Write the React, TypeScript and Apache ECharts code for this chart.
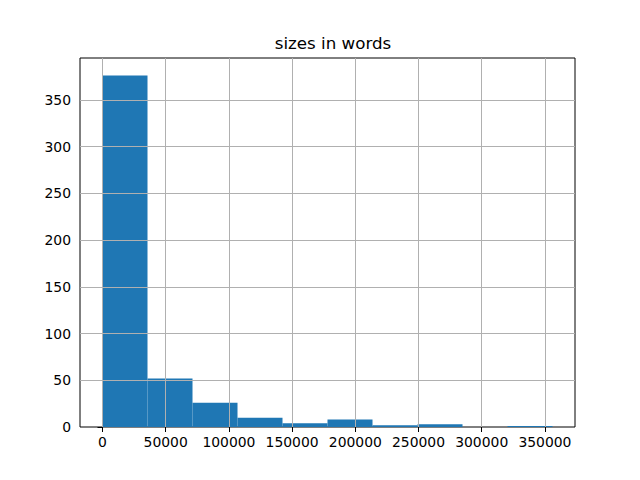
import React, { useEffect, useRef } from "react";
import * as echarts from "echarts";

const binEdges = [0, 35600, 71200, 106800, 142400, 178000, 213600, 249200, 284800, 320400, 356000];
const counts = [376, 52, 26, 10, 4, 8, 2, 3, 0, 1];
const xTicks = [0, 50000, 100000, 150000, 200000, 250000, 300000, 350000];
const yTicks = [0, 50, 100, 150, 200, 250, 300, 350];
const title = "sizes in words";

export default function App() {
  const ref = useRef<HTMLDivElement>(null);
  useEffect(() => {
    document.body.style.margin = "0";
    const chart = echarts.init(ref.current!, null, { renderer: "svg" });
    const data = counts.map((c, i) => [binEdges[i], binEdges[i + 1], c]);
    const xMin = binEdges[0] - (binEdges[binEdges.length - 1] - binEdges[0]) * 0.05;
    const xMax = binEdges[binEdges.length - 1] + (binEdges[binEdges.length - 1] - binEdges[0]) * 0.05;
    const yMax = Math.max(...counts) * 1.05;
    const font = "DejaVu Sans";
    chart.setOption({
      animation: false,
      backgroundColor: "#fff",
      textStyle: { fontFamily: font },
      title: {
        text: title,
        left: 328,
        top: 29,
        textAlign: "center",
        textStyle: { fontFamily: font, fontSize: 16.7, fontWeight: "normal", color: "#000" },
      },
      grid: {
        left: 80,
        right: 65,
        top: 58,
        bottom: 53,
        show: true,
        borderColor: "#000",
        borderWidth: 1,
        backgroundColor: "transparent",
        containLabel: false,
      },
      xAxis: {
        type: "value",
        min: xMin,
        max: xMax,
        axisLine: { show: false },
        splitLine: { show: false },
        axisTick: { show: true, inside: false, length: 5, customValues: xTicks, lineStyle: { color: "#000", width: 1 } },
        axisLabel: {
          customValues: xTicks,
          color: "#000",
          fontSize: 13.9,
          fontFamily: font,
          margin: 8,
          formatter: (v: number) => String(v),
        },
      },
      yAxis: {
        type: "value",
        min: 0,
        max: yMax,
        axisLine: { show: false },
        splitLine: { show: false },
        axisTick: { show: true, inside: false, length: 5, customValues: yTicks, lineStyle: { color: "#000", width: 1 } },
        axisLabel: {
          customValues: yTicks,
          color: "#000",
          fontSize: 13.9,
          fontFamily: font,
          margin: 9,
          formatter: (v: number) => String(v),
        },
      },
      series: [
        {
          type: "custom",
          data,
          encode: { x: [0, 1], y: 2 },
          renderItem: (params: any, api: any) => {
            const p0 = api.coord([api.value(0), api.value(2)]);
            const p1 = api.coord([api.value(1), 0]);
            return {
              type: "rect",
              shape: { x: p0[0], y: p0[1], width: p1[0] - p0[0], height: p1[1] - p0[1] },
              style: { fill: "#1f77b4" },
            };
          },
          markLine: {
            silent: true,
            symbol: "none",
            label: { show: false },
            lineStyle: { color: "#b0b0b0", type: "solid", width: 1 },
            data: [
              ...xTicks.map((v) => ({ xAxis: v })),
              ...yTicks.filter((v) => v > 0).map((v) => ({ yAxis: v })),
            ],
          },
        },
      ],
    });
    return () => chart.dispose();
  }, []);
  return <div ref={ref} style={{ width: 640, height: 480 }} />;
}
